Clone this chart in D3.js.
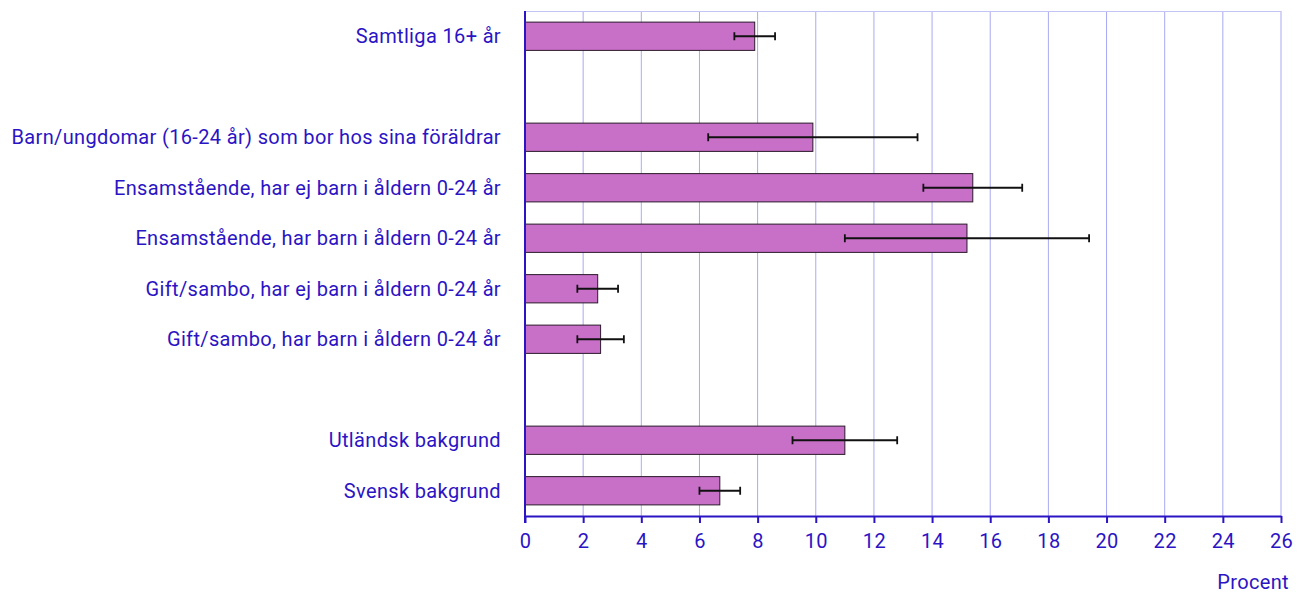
<!doctype html>
<html>
<head>
<meta charset="utf-8">
<script src="https://cdn.jsdelivr.net/npm/d3@7"></script>
<style>
  body { margin: 0; background: #fff; }
  svg text { font-family: Roboto, sans-serif; letter-spacing: 0.35px; }
</style>
</head>
<body>
<div id="chart"></div>
<script>
// categories, top to bottom ("" = empty slot)
var categories = [
  "Samtliga 16+ år",
  "",
  "Barn/ungdomar (16-24 år) som bor hos sina föräldrar",
  "Ensamstående, har ej barn i åldern 0-24 år",
  "Ensamstående, har barn i åldern 0-24 år",
  "Gift/sambo, har ej barn i åldern 0-24 år",
  "Gift/sambo, har barn i åldern 0-24 år",
  "",
  "Utländsk bakgrund",
  "Svensk bakgrund"
];
var values = [7.9, null, 9.9, 15.4, 15.2, 2.5, 2.6, null, 11.0, 6.7];
var errLow = [7.2, null, 6.3, 13.7, 11.0, 1.8, 1.8, null, 9.2, 6.0];
var errHigh = [8.6, null, 13.5, 17.1, 19.4, 3.2, 3.4, null, 12.8, 7.4];
var xTicks = [0, 2, 4, 6, 8, 10, 12, 14, 16, 18, 20, 22, 24, 26];

var W = 1310, H = 594;
var m = {left: 525, right: 29, top: 11, bottom: 78};
var blue = "#2b14c4";
var fs = 20;

var svg = d3.select("#chart").append("svg")
  .attr("width", W).attr("height", H);

var x = d3.scaleLinear().domain([0, 26]).range([m.left, W - m.right]);
var slots = categories.map(function(d, i) { return i; });
var y = d3.scaleBand().domain(slots).range([m.top, H - m.bottom]).paddingInner(0.44).paddingOuter(0.22);

// grid
svg.append("g").selectAll("line").data(xTicks.slice(1)).enter().append("line")
  .attr("x1", function(d) { return x(d); }).attr("x2", function(d) { return x(d); })
  .attr("y1", m.top).attr("y2", H - m.bottom)
  .attr("stroke", "#a9a9f2").attr("stroke-width", 1);
svg.append("line")
  .attr("x1", m.left).attr("x2", x(26))
  .attr("y1", m.top + 0.5).attr("y2", m.top + 0.5)
  .attr("stroke", "#c4c4f6").attr("stroke-width", 1);

var rows = slots.filter(function(i) { return values[i] != null; });

// bars
svg.append("g").selectAll("rect").data(rows).enter().append("rect")
  .attr("x", x(0))
  .attr("y", function(i) { return y(i); })
  .attr("width", function(i) { return x(values[i]) - x(0); })
  .attr("height", y.bandwidth())
  .attr("fill", "#c86fc8")
  .attr("stroke", "#2a1a2a").attr("stroke-width", 1);

// error bars
var eb = svg.append("g").attr("stroke", "#111").attr("stroke-width", 1.8);
rows.forEach(function(i) {
  var cy = y(i) + y.bandwidth() / 2;
  eb.append("line").attr("x1", x(errLow[i])).attr("x2", x(errHigh[i])).attr("y1", cy).attr("y2", cy);
  [errLow[i], errHigh[i]].forEach(function(v) {
    eb.append("line").attr("x1", x(v)).attr("x2", x(v)).attr("y1", cy - 4).attr("y2", cy + 4);
  });
});

// category labels
svg.append("g").selectAll("text").data(rows).enter().append("text")
  .attr("x", 501)
  .attr("y", function(i) { return y(i) + y.bandwidth() / 2; })
  .attr("dy", "0.35em")
  .attr("text-anchor", "end")
  .attr("font-size", fs)
  .attr("fill", blue)
  .text(function(i) { return categories[i]; });

// x axis
var xAxis = svg.append("g")
  .attr("transform", "translate(0," + (H - m.bottom) + ")")
  .call(d3.axisBottom(x).tickValues(xTicks).tickSize(7).tickPadding(11).tickSizeOuter(0));
xAxis.select(".domain").attr("stroke", blue).attr("stroke-width", 2);
xAxis.selectAll(".tick line").attr("stroke", blue).attr("stroke-width", 2);
xAxis.selectAll(".tick text").attr("fill", blue).attr("font-size", fs).attr("font-family", "Roboto, sans-serif");

// y axis line
svg.append("line")
  .attr("x1", x(0)).attr("x2", x(0))
  .attr("y1", m.top).attr("y2", H - m.bottom + 7)
  .attr("stroke", blue).attr("stroke-width", 2);

svg.append("text")
  .attr("x", 1289).attr("y", 589)
  .attr("text-anchor", "end")
  .attr("font-size", fs)
  .attr("fill", blue)
  .text("Procent");
</script>
</body>
</html>
